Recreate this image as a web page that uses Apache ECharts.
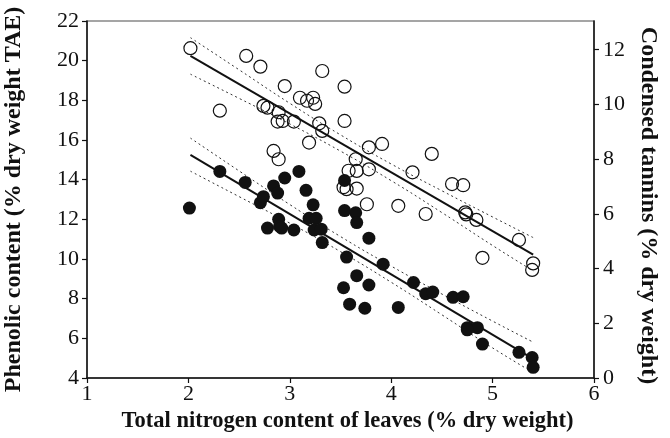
<!DOCTYPE html>
<html>
<head>
<meta charset="utf-8">
<script src="https://cdn.jsdelivr.net/npm/echarts@6/dist/echarts.min.js"></script>
<style>
html,body{margin:0;padding:0;background:#fff;}
#chart{width:670px;height:438px;}
</style>
</head>
<body>
<div id="chart"></div>
<script>
// Phenolic content (% dry weight TAE) — open circles, left axis
const phenolicX = [2.02,2.31,2.57,2.71,2.74,2.78,2.84,2.89,2.89,2.88,2.93,2.95,3.04,3.10,3.17,3.23,3.25,3.19,3.29,3.32,3.32,3.54,3.54,3.53,3.56,3.58,3.66,3.65,3.66,3.78,3.76,3.78,3.91,4.07,4.21,4.34,4.40,4.60,4.71,4.74,4.73,4.84,4.90,5.26,5.40,5.39];
const phenolicY = [20.63,17.48,20.24,19.70,17.72,17.63,15.45,15.03,17.40,16.93,16.96,18.72,16.93,18.13,17.98,18.13,17.82,15.87,16.84,16.46,19.48,18.69,16.96,13.62,13.52,14.45,14.44,15.03,13.55,14.52,12.76,15.63,15.80,12.68,14.37,12.27,15.30,13.78,13.72,12.25,12.35,11.97,10.06,10.96,9.78,9.45];

// Condensed tannins (% dry weight) — filled circles, right axis
const tanninX = [2.01,2.31,2.56,2.71,2.74,2.78,2.84,2.88,2.89,2.90,2.92,2.95,3.04,3.09,3.16,3.19,3.23,3.26,3.24,3.31,3.32,3.54,3.54,3.65,3.66,3.78,3.56,3.66,3.53,3.59,3.74,3.78,3.92,4.07,4.22,4.34,4.41,4.61,4.71,4.75,4.85,4.75,4.90,5.26,5.39,5.40];
const tanninY = [6.21,7.55,7.15,6.41,6.63,5.48,7.02,6.76,5.80,5.54,5.48,7.31,5.41,7.55,6.86,5.84,6.33,5.84,5.41,5.44,4.95,7.22,6.12,6.04,5.68,5.11,4.42,3.74,3.30,2.70,2.55,3.40,4.16,2.58,3.49,3.08,3.14,2.95,2.97,1.84,1.84,1.76,1.24,0.94,0.75,0.39];

// Regression lines and confidence bands
const fitX = [2.02,2.5,3.0,3.5,4.0,4.5,5.0,5.4];
const phenolicFit   = [20.24,18.82,17.33,15.85,14.37,12.89,11.40,10.22];
const phenolicUpper = [21.16,19.54,17.85,16.26,14.79,13.44,12.12,11.08];
const phenolicLower = [19.32,18.10,16.81,15.44,13.95,12.34,10.68,9.40];
const tanninFit   = [8.16,7.10,6.00,4.90,3.79,2.69,1.59,0.70];
const tanninUpper = [8.77,7.57,6.34,5.17,4.09,3.07,2.08,1.31];
const tanninLower = [7.56,6.63,5.66,4.62,3.50,2.31,1.10,0.20];

// Tick labels
const xTicks = [1,2,3,4,5,6];
const leftTicks = [4,6,8,10,12,14,16,18,20,22];
const rightTicks = [0,2,4,6,8,10,12];

const pair = (xs, ys) => xs.map((x, i) => [x, ys[i]]);
const FONT = 'Liberation Serif';
const tickLabel = {fontFamily: FONT, fontSize: 22, color: '#111'};
const titleStyle = {fontFamily: FONT, fontSize: 22.5, fontWeight: 'bold', color: '#111'};
const yTitleStyle = {fontFamily: FONT, fontSize: 24, fontWeight: 'bold', color: '#111'};
const axisLine = {show: true, lineStyle: {color: '#111', width: 1.5}};
const band = {color: '#333', width: 1, type: [2, 3]};

const chart = echarts.init(document.getElementById('chart'), null, {renderer: 'canvas'});
chart.setOption({
  animation: false,
  backgroundColor: '#fff',
  grid: {left: 87, right: 76, top: 21, bottom: 60, containLabel: false, outerBoundsMode: 'none',
    show: true, borderColor: '#888', borderWidth: 1.5, backgroundColor: 'transparent'},
  xAxis: {
    type: 'value', min: xTicks[0], max: xTicks[xTicks.length - 1], interval: 1,
    axisLine: axisLine,
    axisTick: {show: true, length: 5, lineStyle: {color: '#111', width: 1.2}},
    axisLabel: Object.assign({margin: 5}, tickLabel),
    splitLine: {show: false},
    name: 'Total nitrogen content of leaves (% dry weight)',
    nameLocation: 'middle', nameGap: 27,
    nameTextStyle: Object.assign({padding: [0, 0, 0, 14]}, titleStyle)
  },
  yAxis: [{
    type: 'value', min: leftTicks[0], max: leftTicks[leftTicks.length - 1], interval: 2,
    position: 'left',
    axisLine: axisLine,
    axisTick: {show: true, length: 5, lineStyle: {color: '#111', width: 1.2}},
    axisLabel: Object.assign({margin: 8}, tickLabel),
    splitLine: {show: false},
    name: 'Phenolic content (% dry weight TAE)',
    nameLocation: 'middle', nameGap: 61,
    nameTextStyle: yTitleStyle
  }, {
    type: 'value', min: 0, max: 13.05,
    position: 'right',
    axisLine: axisLine,
    axisTick: {show: true, length: 5, customValues: rightTicks, lineStyle: {color: '#111', width: 1.2}},
    axisLabel: Object.assign({margin: 9, customValues: rightTicks}, tickLabel),
    splitLine: {show: false},
    name: 'Condensed tannins (% dry weight)',
    nameLocation: 'middle', nameGap: 40, nameRotate: -90,
    nameTextStyle: Object.assign({padding: [0, 0, 0, 12]}, yTitleStyle)
  }],
  series: [
    {type: 'line', data: pair(fitX, phenolicUpper), smooth: true, symbol: 'none', lineStyle: band, z: 1},
    {type: 'line', data: pair(fitX, phenolicLower), smooth: true, symbol: 'none', lineStyle: band, z: 1},
    {type: 'line', data: pair([fitX[0], fitX[fitX.length-1]], [phenolicFit[0], phenolicFit[phenolicFit.length-1]]), symbol: 'none', lineStyle: {color: '#111', width: 2}, z: 2},
    {type: 'line', yAxisIndex: 1, data: pair(fitX, tanninUpper), smooth: true, symbol: 'none', lineStyle: band, z: 1},
    {type: 'line', yAxisIndex: 1, data: pair(fitX, tanninLower), smooth: true, symbol: 'none', lineStyle: band, z: 1},
    {type: 'line', yAxisIndex: 1, data: pair([fitX[0], fitX[fitX.length-1]], [tanninFit[0], tanninFit[tanninFit.length-1]]), symbol: 'none', lineStyle: {color: '#111', width: 2}, z: 2},
    {type: 'scatter', data: pair(phenolicX, phenolicY), symbol: 'circle', symbolSize: 13,
      itemStyle: {color: 'rgba(255,255,255,0)', borderColor: '#111', borderWidth: 1.2, opacity: 1}, z: 3},
    {type: 'scatter', yAxisIndex: 1, data: pair(tanninX, tanninY), symbol: 'circle', symbolSize: 13,
      itemStyle: {color: '#111', borderWidth: 0, opacity: 1}, z: 4}
  ]
});
</script>
</body>
</html>
